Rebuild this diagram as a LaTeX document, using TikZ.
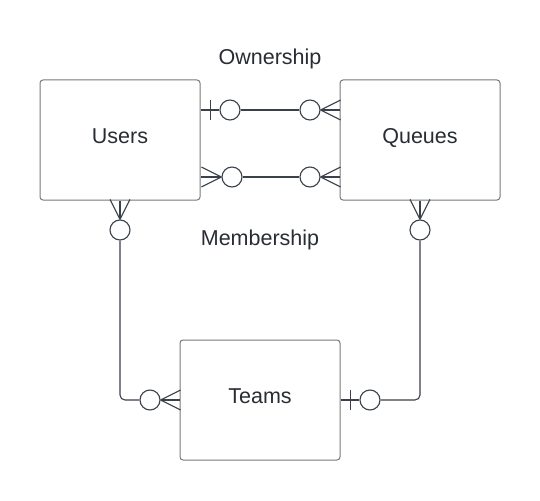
\documentclass[tikz,border=0pt]{standalone}
\usepackage{fontspec}
\setmainfont{Liberation Sans}
\usetikzlibrary{calc}
\definecolor{erline}{RGB}{58,65,74}
\definecolor{erbox}{RGB}{120,120,120}
\definecolor{ertext}{RGB}{40,44,51}
\tikzset{
	entity/.style={draw=erbox, line width=1pt, rounded corners=3pt, minimum width=160pt, minimum height=120pt, text=ertext, text height=14pt, text depth=8pt, font=\fontsize{21.5}{25}\selectfont},
	link/.style={draw=erline, line width=1.1pt},
	zero/.style={circle, draw=erline, line width=1.1pt, minimum size=20pt, inner sep=0pt},
	caption/.style={text=ertext, font=\fontsize{21.5}{25}\selectfont, anchor=base},
}

\begin{document}
\begin{tikzpicture}[x=1pt, y=-1pt]
			%%%%% START %%%%%
			
			\useasboundingbox (0,0) rectangle (540,500);
			
			\node[entity] (users) at (120,140) {Users};
			\node[entity] (queues) at (420,140) {Queues};
			\node[entity] (teams) at (260,400) {Teams};
			
			\node[caption] (ownership) at (270,65) {Ownership};
			\node[caption] (membership) at (260,245) {Membership};
			
			\node[zero] (own1) at (230,110) {};
			\node[zero] (own2) at (310,110) {};
			\draw[link] (users.east |- own1) -- (own1);
			\draw[link] (own1) -- (own2);
			\draw[link] (own2) -- (queues.west |- own2);
			\draw[link] ($(users.east |- own1)+(10,-10)$) -- ++(0,20);
			\draw[link] (own2.east) -- ++(20,-10) (own2.east) -- ++(20,10);
			
			\node[zero] (mem1) at (232,177) {};
			\node[zero] (mem2) at (310,177) {};
			\draw[link] (users.east |- mem1) -- (mem1);
			\draw[link] (mem1) -- (mem2);
			\draw[link] (mem2) -- (queues.west |- mem2);
			\draw[link] (mem1.west) -- ++(-20,-10) (mem1.west) -- ++(-20,10);
			\draw[link] (mem2.east) -- ++(20,-10) (mem2.east) -- ++(20,10);
			
			\node[zero] (ut1) at (120,230) {};
			\node[zero] (ut2) at (150,400) {};
			\draw[link] (users.south) -- (ut1);
			\draw[link] (ut1.north) -- ++(-10,-20) (ut1.north) -- ++(10,-20);
			\draw[link, rounded corners=5pt] (ut1.south) |- (ut2.west);
			\draw[link] (ut2) -- (teams.west);
			\draw[link] (ut2.east) -- ++(20,-10) (ut2.east) -- ++(20,10);
			
			\node[zero] (qt1) at (420,230) {};
			\node[zero] (qt2) at (370,400) {};
			\draw[link] (queues.south) -- (qt1);
			\draw[link] (qt1.north) -- ++(-10,-20) (qt1.north) -- ++(10,-20);
			\draw[link, rounded corners=5pt] (qt2.east) -| (qt1.south);
			\draw[link] (teams.east) -- (qt2);
			\draw[link] ($(teams.east)+(10,-10)$) -- ++(0,20);
			
			%%%%% END %%%%%
\end{tikzpicture}
\end{document}
